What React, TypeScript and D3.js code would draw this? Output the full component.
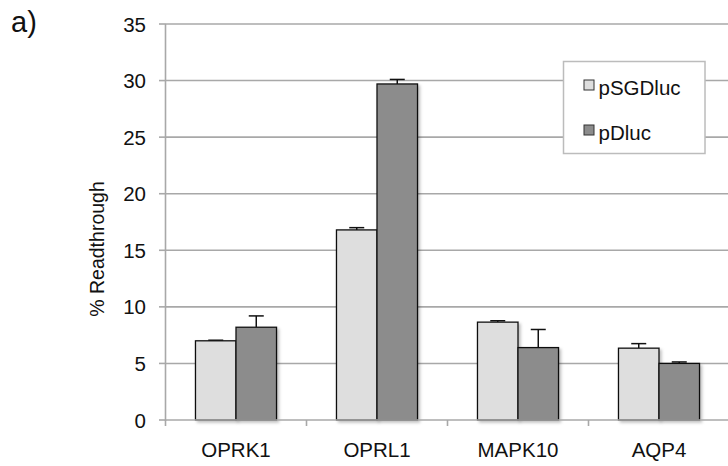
import React from "react";
import * as d3 from "d3";

const categories = ["OPRK1", "OPRL1", "MAPK10", "AQP4"];
const seriesNames = ["pSGDluc", "pDluc"];
const pSGDlucValues = [7.0, 16.8, 8.65, 6.35];
const pSGDlucErrors = [0.05, 0.2, 0.12, 0.4];
const pDlucValues = [8.2, 29.7, 6.4, 5.0];
const pDlucErrors = [1.0, 0.4, 1.6, 0.13];
const yTicks = [0, 5, 10, 15, 20, 25, 30, 35];
const seriesColors = ["#dedede", "#8c8c8c"];

const W = 728;
const H = 466;
const FONT = "Liberation Sans, Arial, Helvetica, sans-serif";

export default function App() {
  const x0 = d3.scaleBand<string>().domain(categories).range([165.5, 729.5]).padding(0);
  const x1 = d3
    .scaleBand<string>()
    .domain(seriesNames)
    .range([0, x0.bandwidth()])
    .paddingInner(0)
    .paddingOuter(0.74);
  const y = d3.scaleLinear().domain([0, 35]).range([420, 24]);

  const values = [pSGDlucValues, pDlucValues];
  const errors = [pSGDlucErrors, pDlucErrors];
  const gridColor = "#a8a8a8";
  const capW = 15;

  return (
    <svg
      width={W}
      height={H}
      style={{ position: "absolute", left: 0, top: 0, background: "#fff" }}
      fontFamily={FONT}
    >
      <defs>
        <filter id="sh" x="-20%" y="-20%" width="150%" height="150%">
          <feDropShadow dx="2" dy="2" stdDeviation="1.5" floodColor="#000" floodOpacity="0.25" />
        </filter>
      </defs>
      <text x={11} y={32} fontSize={29} fill="#111">a)</text>

      {/* gridlines */}
      {yTicks.filter((t) => t > 0).map((t) => (
        <line key={t} x1={166} x2={W} y1={y(t)} y2={y(t)} stroke={gridColor} strokeWidth={1.6} />
      ))}
      {/* y axis */}
      <line x1={165.5} x2={165.5} y1={y(35)} y2={y(0) + 1} stroke={gridColor} strokeWidth={1.6} />
      {yTicks.map((t) => (
        <g key={"yt" + t}>
          <line x1={159} x2={166} y1={y(t)} y2={y(t)} stroke={gridColor} strokeWidth={1.6} />
          <text x={146} y={y(t) + 7.5} fontSize={20.5} textAnchor="end" fill="#111">{t}</text>
        </g>
      ))}
      <text
        transform={`translate(104, ${(y(0) + y(35)) / 2 + 27}) rotate(-90)`}
        fontSize={19.5}
        textAnchor="middle"
        fill="#111"
      >
        % Readthrough
      </text>

      {/* bars */}
      {categories.map((c, ci) => (
        <g key={c} transform={`translate(${x0(c)},0)`}>
          {seriesNames.map((s, si) => {
            const v = values[si][ci];
            const e = errors[si][ci];
            const bx = x1(s)!;
            const bw = x1.bandwidth();
            const cx = bx + bw / 2;
            return (
              <g key={s}>
                <line x1={cx} x2={cx} y1={y(v)} y2={y(v + e)} stroke="#111" strokeWidth={1.5} />
                <line x1={cx - capW / 2} x2={cx + capW / 2} y1={y(v + e)} y2={y(v + e)} stroke="#111" strokeWidth={1.5} />
                <rect
                  x={bx}
                  y={y(v)}
                  width={bw}
                  height={y(0) - y(v)}
                  fill={seriesColors[si]}
                  stroke="#111"
                  strokeWidth={1.3}
                  filter="url(#sh)"
                />
              </g>
            );
          })}
        </g>
      ))}

      {/* x axis */}
      <line x1={165.5} x2={W} y1={y(0)} y2={y(0)} stroke={gridColor} strokeWidth={1.6} />
      {categories.map((c) => (
        <line
          key={"xt" + c}
          x1={x0(c)!}
          x2={x0(c)!}
          y1={y(0)}
          y2={y(0) + 6}
          stroke={gridColor}
          strokeWidth={1.6}
        />
      ))}
      {categories.map((c) => (
        <text key={"xl" + c} x={x0(c)! + x0.bandwidth() / 2} y={456.5} fontSize={20.5} textAnchor="middle" fill="#111">
          {c}
        </text>
      ))}

      {/* legend */}
      <rect x={563.5} y={61.5} width={141.5} height={92} fill="#fff" stroke="#bcbcbc" strokeWidth={1.5} />
      {seriesNames.map((s, si) => (
        <g key={"lg" + s} transform={`translate(0, ${si * 45})`}>
          <rect x={584} y={80} width={10} height={10} fill={seriesColors[si]} stroke="#333" strokeWidth={1} />
          <text x={598.5} y={95} fontSize={20.5} fill="#111">{s}</text>
        </g>
      ))}
    </svg>
  );
}
